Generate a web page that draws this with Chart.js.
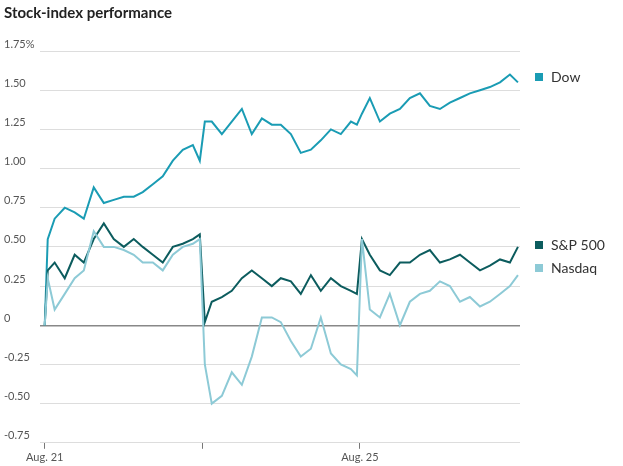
<!DOCTYPE html>
<html><head><meta charset="utf-8">
<script src="https://cdn.jsdelivr.net/npm/chart.js@4"></script>
<style>body{margin:0;background:#fff}</style>
</head><body>
<canvas id="c" width="623" height="466"></canvas>
<script>
// time in trading days since Aug. 21 open
var times = [0,0.019,0.063,0.127,0.190,0.248,0.311,0.375,0.438,0.502,0.565,0.622,0.686,0.749,0.813,0.876,0.940,0.984,1.016,1.060,1.124,1.187,1.251,1.314,1.378,1.441,1.498,1.562,1.625,1.689,1.752,1.816,1.879,1.943,1.981,2.013,2.063,2.127,2.190,2.254,2.317,2.381,2.444,2.508,2.571,2.635,2.698,2.762,2.825,2.889,2.952,3.003];
var dow = [0,0.55,0.68,0.75,0.72,0.68,0.88,0.78,0.8,0.82,0.82,0.85,0.9,0.95,1.05,1.12,1.15,1.05,1.3,1.3,1.22,1.3,1.38,1.22,1.32,1.28,1.28,1.22,1.1,1.12,1.18,1.25,1.22,1.3,1.28,1.35,1.45,1.3,1.35,1.38,1.45,1.48,1.4,1.38,1.42,1.45,1.48,1.5,1.52,1.55,1.6,1.55];
var sp500 = [0,0.35,0.4,0.3,0.45,0.4,0.55,0.65,0.55,0.5,0.55,0.5,0.45,0.4,0.5,0.52,0.55,0.58,0.02,0.15,0.18,0.22,0.3,0.35,0.3,0.25,0.3,0.28,0.2,0.32,0.22,0.3,0.25,0.22,0.2,0.55,0.45,0.35,0.32,0.4,0.4,0.45,0.48,0.4,0.42,0.45,0.4,0.35,0.38,0.42,0.4,0.5];
var nasdaq = [0,0.3,0.1,0.2,0.3,0.35,0.6,0.5,0.5,0.48,0.45,0.4,0.4,0.35,0.45,0.5,0.52,0.55,-0.25,-0.5,-0.45,-0.3,-0.38,-0.2,0.05,0.05,0.02,-0.1,-0.2,-0.15,0.05,-0.18,-0.25,-0.28,-0.32,0.55,0.1,0.05,0.2,0,0.15,0.2,0.22,0.28,0.25,0.15,0.18,0.12,0.15,0.2,0.25,0.32];
var dayTicks = [0, 1, 2];
var dayLabels = {0: 'Aug. 21', 2: 'Aug. 25'};
var names = ['Dow', 'S&P 500', 'Nasdaq'];
var colors = ['#1a9cb4', '#0c5c5e', '#8dcad6'];
var labelY = [77, 245, 268];

function pts(v) { return times.map(function (t, i) { return {x: t, y: v[i]}; }); }

var endLabels = {
  id: 'endLabels',
  afterDraw: function (chart) {
    var ctx = chart.ctx;
    ctx.save();
    ctx.font = '14px Lato, sans-serif';
    ctx.textBaseline = 'middle';
    names.forEach(function (n, i) {
      ctx.fillStyle = colors[i];
      ctx.fillRect(535, labelY[i] - 4, 8, 8);
      ctx.fillStyle = '#333';
      ctx.fillText(n, 551, labelY[i]);
    });
    ctx.restore();
  }
};

new Chart(document.getElementById('c'), {
  type: 'line',
  data: {
    datasets: [
      {data: pts(nasdaq), borderColor: colors[2]},
      {data: pts(sp500), borderColor: colors[1]},
      {data: pts(dow), borderColor: colors[0]}
    ]
  },
  options: {
    responsive: false,
    animation: false,
    elements: {point: {radius: 0}, line: {borderWidth: 2, tension: 0}},
    layout: {padding: {left: 4, right: 103, top: 0, bottom: 0}},
    plugins: {
      legend: {display: false},
      tooltip: {enabled: false},
      title: {display: true, text: 'Stock-index performance', align: 'start',
        color: '#222', font: {family: 'Lato, sans-serif', size: 15, weight: 'bold'},
        padding: {top: 4, bottom: 29}}
    },
    scales: {
      x: {
        type: 'linear', min: -0.03, max: 3.016,
        afterBuildTicks: function (s) { s.ticks = dayTicks.map(function (v) { return {value: v}; }); },
        ticks: {callback: function (v) { return dayLabels[v] || ''; }, autoSkip: false, maxRotation: 0,
          color: '#555', font: {family: 'Lato, sans-serif', size: 11}, padding: 2},
        grid: {drawOnChartArea: false, tickLength: 6, color: '#777'},
        border: {display: false}
      },
      y: {
        min: -0.75, max: 1.75,
        afterFit: function (s) { s.width = 36; },
        ticks: {stepSize: 0.25, crossAlign: 'far', labelOffset: -7, padding: 0,
          color: '#555', font: {family: 'Lato, sans-serif', size: 11},
          callback: function (v) { return v === 0 ? '0' : v === 1.75 ? '1.75%' : v.toFixed(2); }},
        grid: {drawTicks: false, color: function (c) { return c.tick.value === 0 ? '#888' : '#ddd'; },
          lineWidth: function (c) { return c.tick.value === 0 ? 1.5 : 1; }},
        border: {display: false}
      }
    }
  },
  plugins: [endLabels]
});
</script>
</body></html>
